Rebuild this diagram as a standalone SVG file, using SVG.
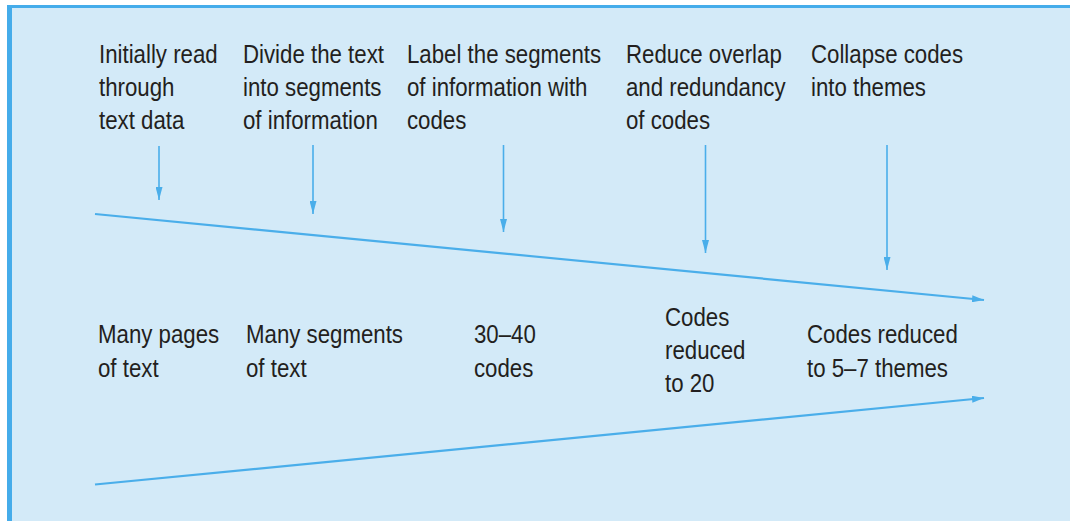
<svg xmlns="http://www.w3.org/2000/svg" width="1070" height="521" viewBox="0 0 1070 521">
  <defs>
    <style>
      .bg { fill: #d3eaf8; }
      .frame { fill: #45acea; }
      .conn { stroke: #4aaeea; fill: none; }
      .main { stroke-width: 2.2; }
      .drop { stroke-width: 1.6; }
      .lbl { font-family: "Liberation Sans", Arial, Helvetica, sans-serif; font-size: 25px; fill: #231f20; }
    </style>
    <marker id="ah" viewBox="0 0 12 7" refX="12" refY="3.5" markerWidth="12" markerHeight="7" markerUnits="userSpaceOnUse" orient="auto">
      <path d="M0,0 L12,3.5 L0,7 z" fill="#4aaeea"/>
    </marker>
    <marker id="ahs" viewBox="0 0 13 7" refX="13" refY="3.5" markerWidth="13" markerHeight="7" markerUnits="userSpaceOnUse" orient="auto">
      <path d="M0,0 L13,3.5 L0,7 z" fill="#4aaeea"/>
    </marker>
  </defs>

  <rect x="0" y="0" width="1070" height="521" fill="#ffffff"/>
  <rect class="bg" x="7" y="5" width="1063" height="516"/>
  <rect class="frame" x="7" y="5" width="1063" height="3"/>
  <rect class="frame" x="7" y="5" width="5" height="516"/>

  <g id="connectors">
    <line class="conn main" x1="95" y1="214" x2="984" y2="300" marker-end="url(#ah)"/>
    <line class="conn main" x1="95" y1="484.5" x2="984" y2="398" marker-end="url(#ah)"/>
    <line class="conn drop" x1="159" y1="146" x2="159" y2="200" marker-end="url(#ahs)"/>
    <line class="conn drop" x1="313" y1="145" x2="313" y2="214" marker-end="url(#ahs)"/>
    <line class="conn drop" x1="503.5" y1="145" x2="503.5" y2="232" marker-end="url(#ahs)"/>
    <line class="conn drop" x1="705.5" y1="145" x2="705.5" y2="253" marker-end="url(#ahs)"/>
    <line class="conn drop" x1="887" y1="145" x2="887" y2="270" marker-end="url(#ahs)"/>
  </g>

  <g id="step1" transform="translate(99,0) scale(0.89,1)">
    <text class="lbl" x="0" y="63">Initially read</text>
    <text class="lbl" x="0" y="96">through</text>
    <text class="lbl" x="0" y="129">text data</text>
  </g>
  <g id="step2" transform="translate(243,0) scale(0.89,1)">
    <text class="lbl" x="0" y="63">Divide the text</text>
    <text class="lbl" x="0" y="96">into segments</text>
    <text class="lbl" x="0" y="129">of information</text>
  </g>
  <g id="step3" transform="translate(407,0) scale(0.89,1)">
    <text class="lbl" x="0" y="63">Label the segments</text>
    <text class="lbl" x="0" y="96">of information with</text>
    <text class="lbl" x="0" y="129">codes</text>
  </g>
  <g id="step4" transform="translate(626,0) scale(0.89,1)">
    <text class="lbl" x="0" y="63">Reduce overlap</text>
    <text class="lbl" x="0" y="96">and redundancy</text>
    <text class="lbl" x="0" y="129">of codes</text>
  </g>
  <g id="step5" transform="translate(811,0) scale(0.89,1)">
    <text class="lbl" x="0" y="63">Collapse codes</text>
    <text class="lbl" x="0" y="96">into themes</text>
  </g>

  <g id="result1" transform="translate(98,0) scale(0.89,1)">
    <text class="lbl" x="0" y="343">Many pages</text>
    <text class="lbl" x="0" y="377">of text</text>
  </g>
  <g id="result2" transform="translate(246,0) scale(0.89,1)">
    <text class="lbl" x="0" y="343">Many segments</text>
    <text class="lbl" x="0" y="377">of text</text>
  </g>
  <g id="result3" transform="translate(474,0) scale(0.89,1)">
    <text class="lbl" x="0" y="343">30–40</text>
    <text class="lbl" x="0" y="377">codes</text>
  </g>
  <g id="result4" transform="translate(665,0) scale(0.89,1)">
    <text class="lbl" x="0" y="326">Codes</text>
    <text class="lbl" x="0" y="359">reduced</text>
    <text class="lbl" x="0" y="392">to 20</text>
  </g>
  <g id="result5" transform="translate(807,0) scale(0.89,1)">
    <text class="lbl" x="0" y="343">Codes reduced</text>
    <text class="lbl" x="0" y="377">to 5–7 themes</text>
  </g>
</svg>
